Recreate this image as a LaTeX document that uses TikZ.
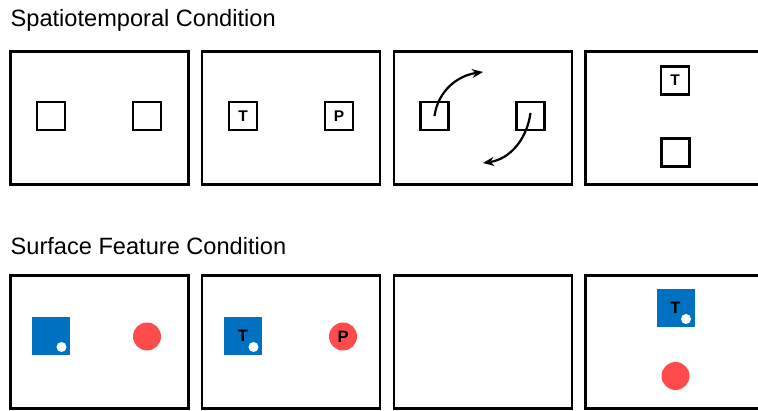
\documentclass[tikz,border=0pt]{standalone}
\usepackage{fontspec}
\setmainfont{Liberation Sans}
\usetikzlibrary{arrows.meta}
\definecolor{tblue}{HTML}{0070C0}
\definecolor{tred}{HTML}{FF4B4B}
\begin{document}
\begin{tikzpicture}[x=1pt,y=-1pt,
  frame/.style={draw=black,line width=2.8pt,minimum width=178pt,minimum height=133pt,inner sep=0pt,outer sep=0pt},
  sq/.style={draw=black,line width=2.2pt,minimum size=28pt,inner sep=0pt,font=\fontsize{15.5pt}{15.5pt}\selectfont\bfseries},
  bsq/.style={fill=tblue,minimum size=38pt,inner sep=0pt,font=\fontsize{16.5pt}{16.5pt}\selectfont\bfseries},
  rdot/.style={circle,fill=tred,minimum size=28pt,inner sep=0pt,font=\fontsize{16.5pt}{16.5pt}\selectfont\bfseries},
  wdot/.style={circle,fill=white,minimum size=10pt,inner sep=0pt},
  title/.style={anchor=base west,inner sep=0pt,font=\fontsize{23.6pt}{23.6pt}\selectfont},
  mv/.style={line width=2.2pt,-{Stealth[length=11pt,width=9pt]}}]
\useasboundingbox (0,0) rectangle (758,411);
\node[title] (t1) at (10.5,26.5) {Spatiotemporal Condition};
\node[title] (t2) at (10.5,255) {Surface Feature Condition};
% top row frames
\node[frame] (f1) at (99.5,118) {};
\node[frame] (f2) at (291,118) {};
\node[frame] (f3) at (483,118) {};
\node[frame] (f4) at (674.5,118) {};
% frame 1
\node[sq] (a1) at (51,116) {};
\node[sq] (a2) at (147,116) {};
% frame 2
\node[sq] (b1) at (243,116) {T};
\node[sq] (b2) at (339,116) {P};
% frame 3
\node[sq] (c1) at (434.5,116) {};
\node[sq] (c2) at (530.5,116) {};
\coordinate (c1e) at (483,72);
\coordinate (c2e) at (483,163);
\draw[mv] (c1.center) to[out=82,in=188] (c1e);
\draw[mv] ([yshift=3pt]c2.center) to[out=-98,in=8] (c2e);
% frame 4
\node[sq] (d1) at (675,80.5) {T};
\node[sq] (d2) at (675.5,152.5) {};
% bottom row frames
\node[frame] (g1) at (99.5,342) {};
\node[frame] (g2) at (291,342) {};
\node[frame] (g3) at (483,342) {};
\node[frame] (g4) at (674.5,342) {};
% frame 1
\node[bsq] (e1) at (51,336.5) {};
\node[wdot] (e1d) at (61.5,347) {};
\node[rdot] (e2) at (147,336.5) {};
% frame 2
\node[bsq] (h1) at (243,336.5) {\raisebox{1pt}{T}};
\node[wdot] (h1d) at (253.5,347) {};
\node[rdot] (h2) at (343,336.5) {P};
% frame 4
\node[bsq] (k1) at (675.5,308.5) {\raisebox{1pt}{T}};
\node[wdot] (k1d) at (686,319) {};
\node[rdot] (k2) at (675.5,376) {};
\end{tikzpicture}
\end{document}
